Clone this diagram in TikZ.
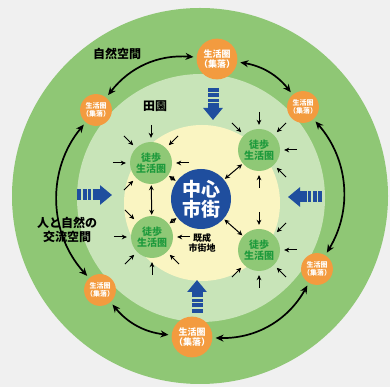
\documentclass[tikz,border=0pt]{standalone}
\usepackage{fontspec}
\setmainfont{Noto Sans CJK JP}
\usetikzlibrary{arrows.meta}

\definecolor{bggray}{HTML}{F0F0F0}
\definecolor{naturegreen}{HTML}{8FC775}
\definecolor{fieldgreen}{HTML}{C8E4B8}
\definecolor{townyellow}{HTML}{FAF5C2}
\definecolor{walkgreen}{HTML}{8FC876}
\definecolor{walktext}{HTML}{1E9A3C}
\definecolor{cityblue}{HTML}{1F4E9E}
\definecolor{villorange}{HTML}{F39B3F}

\tikzset{
  village/.style={circle, fill=villorange, text=white, font=\bfseries\fontsize{9}{10.5}\selectfont, align=center, inner sep=0pt, minimum size=39pt},
  smallvillage/.style={village, font=\bfseries\fontsize{7}{8.5}\selectfont, minimum size=30pt},
  walkzone/.style={circle, fill=walkgreen, text=walktext, font=\bfseries\fontsize{10}{11.5}\selectfont, align=center, inner sep=0pt, minimum size=42pt},
  ringarrow/.style={line width=1.7pt, {Stealth[length=8pt,width=7pt]}-{Stealth[length=8pt,width=7pt]}, shorten <=3pt, shorten >=3pt},
  inarrow/.style={line width=1pt, -{Stealth[length=5pt,width=4.8pt]}},
  dblarrow/.style={line width=1pt, {Stealth[length=5pt,width=4.8pt]}-{Stealth[length=5pt,width=4.8pt]}, shorten <=1pt, shorten >=1pt},
  flowarrow/.style={cityblue, line width=11pt, -{Triangle[length=12pt,width=19pt]}, dash pattern=on 4pt off 1.5pt on 4pt off 1.5pt on 3pt off 1.5pt on 40pt off 0pt},
  zonetext/.style={font=\bfseries\fontsize{12}{14}\selectfont, align=center}
}

\begin{document}
\begin{tikzpicture}[x=1pt,y=1pt]
\fill[bggray] (0,0) rectangle (390,387);
\fill[naturegreen] (200,191) circle (188pt);
\fill[fieldgreen] (201,189) circle (124pt);
\fill[townyellow] (202,184) circle (78pt);

% centre and walking zones
\node[circle, fill=cityblue, text=white, font=\bfseries\fontsize{19}{20}\selectfont, align=center, inner sep=0pt, minimum size=60pt] (city) at (201,188) {中心\\市街};
\node[walkzone] (wul) at (151,224) {徒歩\\生活圏};
\node[walkzone] (wll) at (152,150) {徒歩\\生活圏};
\node[walkzone] (wur) at (259,237) {徒歩\\生活圏};
\node[walkzone] (wlr) at (259,137) {徒歩\\生活圏};

% villages
\node[village] (vtop) at (217,328) {生活圏\\（集落）};
\node[smallvillage] (vul) at (96,277) {生活圏\\（集落）};
\node[smallvillage] (vur) at (303,280) {生活圏\\（集落）};
\node[smallvillage] (vlr) at (317,118) {生活圏\\（集落）};
\node[smallvillage] (vll) at (100,97) {生活圏\\（集落）};
\node[village] (vbot) at (192,50) {生活圏\\（集落）};

\draw[ringarrow] (vlr) to[bend right=36] (vur);
\draw[ringarrow] (vur) to[bend right=21] (vtop);
\draw[ringarrow] (vtop) to[bend right=28] (vul);
\draw[ringarrow] (vul) to[bend right=41] (vll);
\draw[ringarrow] (vll) to[bend right=22] (vbot);
\draw[ringarrow] (vbot) to[bend right=31] (vlr);

% small arrows into the walking zones
\foreach \w/\dirs in {wul/{90,135,45,180,0,225}, wll/{135,180,0,225,270,315}, wur/{90,135,45,0,315,270}, wlr/{90,45,0,315,270,225}}
  \foreach \a in \dirs
    \draw[inarrow] ([shift={(\a:17pt)}]\w.\a) -- ([shift={(\a:4pt)}]\w.\a);

\draw[dblarrow] (wul) -- (city);
\draw[dblarrow] (wll) -- (city);
\draw[dblarrow] (wur) -- (city);
\draw[dblarrow] (wlr) -- (city);
\draw[dblarrow] (wul) -- (wll);

% blue flows
\coordinate (ftop0) at (213,299); \coordinate (ftop1) at (213,267);
\coordinate (fleft0) at (77,192); \coordinate (fleft1) at (112,192);
\coordinate (fright0) at (322,190); \coordinate (fright1) at (288,190);
\coordinate (fbot0) at (197,74); \coordinate (fbot1) at (197,107);
\draw[flowarrow] (ftop0) -- (ftop1);
\draw[flowarrow] (fleft0) -- (fleft1);
\draw[flowarrow] (fright0) -- (fright1);
\draw[flowarrow] (fbot0) -- (fbot1);

% labels
\node[zonetext] (nature) at (117,333) {自然空間};
\node[zonetext] (field) at (155,281) {田園};
\node[zonetext] (contact) at (67,157) {人と自然の\\交流空間};
\node[font=\bfseries\fontsize{9}{10.5}\selectfont, align=center] (town) at (202,144) {既成\\市街地};
\end{tikzpicture}
\end{document}
